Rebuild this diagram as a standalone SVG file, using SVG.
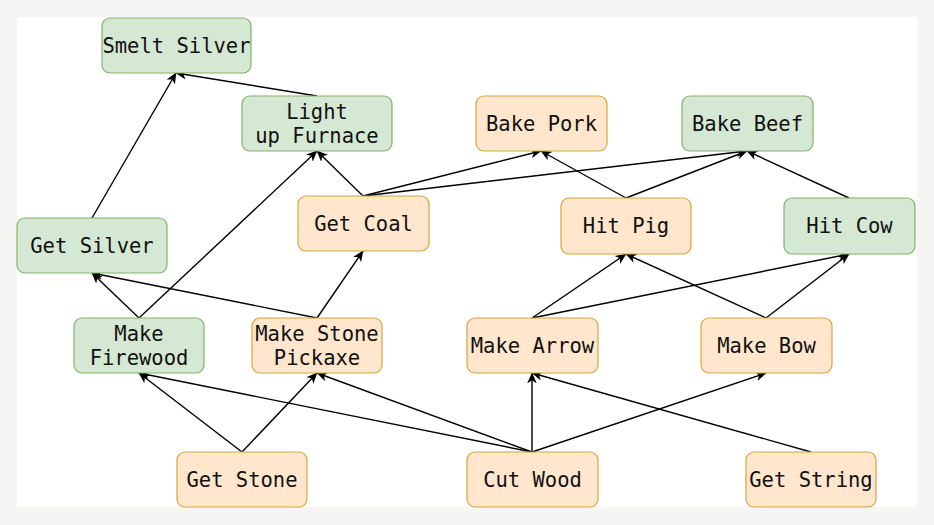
<svg xmlns="http://www.w3.org/2000/svg" width="934" height="525" viewBox="0 0 934 525">
<defs>
<marker id="arr" viewBox="0 0 10 10" refX="9.5" refY="5" markerWidth="11" markerHeight="11" markerUnits="userSpaceOnUse" orient="auto">
<path d="M0,0.6 L10,5 L0,9.4 L2.8,5 Z" fill="#000"/>
</marker>
</defs>
<style>
.g{fill:#d5e8d4;stroke:#82b366;stroke-width:1.2}
.o{fill:#ffe6cc;stroke:#d6a53a;stroke-width:1.2}
text{font-family:"DejaVu Sans Mono","Liberation Mono",monospace;font-size:20.5px;fill:#111;text-anchor:middle}
#edges line{stroke:#000;stroke-width:1.4;marker-end:url(#arr)}
</style>
<rect x="0" y="0" width="934" height="525" fill="#f5f5f3"/>
<rect x="17" y="17" width="900" height="490" fill="#fff"/>
<g id="edges">
<line x1="92" y1="218" x2="176" y2="73"/>
<line x1="317" y1="96" x2="176" y2="73"/>
<line x1="139" y1="318" x2="317" y2="151"/>
<line x1="363" y1="196" x2="317" y2="151"/>
<line x1="363" y1="196" x2="541" y2="151"/>
<line x1="626" y1="198" x2="541" y2="151"/>
<line x1="363" y1="196" x2="747" y2="151"/>
<line x1="626" y1="198" x2="747" y2="151"/>
<line x1="849" y1="198" x2="747" y2="151"/>
<line x1="139" y1="318" x2="92" y2="273"/>
<line x1="317" y1="318" x2="92" y2="273"/>
<line x1="317" y1="318" x2="363" y2="251"/>
<line x1="532" y1="318" x2="626" y2="254"/>
<line x1="766" y1="318" x2="626" y2="254"/>
<line x1="532" y1="318" x2="849" y2="254"/>
<line x1="766" y1="318" x2="849" y2="254"/>
<line x1="242" y1="452" x2="139" y2="373"/>
<line x1="532" y1="452" x2="139" y2="373"/>
<line x1="242" y1="452" x2="317" y2="373"/>
<line x1="532" y1="452" x2="317" y2="373"/>
<line x1="532" y1="452" x2="532" y2="373"/>
<line x1="811" y1="452" x2="532" y2="373"/>
<line x1="532" y1="452" x2="766" y2="373"/>
</g>
<g id="smelt-silver"><rect class="g" x="102" y="18" width="149" height="55" rx="8"/><text x="176.5" y="52.5">Smelt Silver</text></g>
<g id="light-up-furnace"><rect class="g" x="242" y="96" width="150" height="55" rx="8"/><text x="317" y="118.5">Light</text><text x="317" y="142.5">up Furnace</text></g>
<g id="bake-pork"><rect class="o" x="476" y="96" width="131" height="55" rx="8"/><text x="541.5" y="130.5">Bake Pork</text></g>
<g id="bake-beef"><rect class="g" x="682" y="96" width="131" height="55" rx="8"/><text x="747.5" y="130.5">Bake Beef</text></g>
<g id="get-silver"><rect class="g" x="17" y="218" width="150" height="55" rx="8"/><text x="92" y="252.5">Get Silver</text></g>
<g id="get-coal"><rect class="o" x="298" y="196" width="131" height="55" rx="8"/><text x="363.5" y="230.5">Get Coal</text></g>
<g id="hit-pig"><rect class="o" x="561" y="198" width="130" height="56" rx="8"/><text x="626" y="232.5">Hit Pig</text></g>
<g id="hit-cow"><rect class="g" x="784" y="198" width="131" height="56" rx="8"/><text x="849.5" y="232.5">Hit Cow</text></g>
<g id="make-firewood"><rect class="g" x="74" y="318" width="130" height="55" rx="8"/><text x="139" y="340.5">Make</text><text x="139" y="364.5">Firewood</text></g>
<g id="make-stone-pickaxe"><rect class="o" x="252" y="318" width="130" height="55" rx="8"/><text x="317" y="340.5">Make Stone</text><text x="317" y="364.5">Pickaxe</text></g>
<g id="make-arrow"><rect class="o" x="467" y="318" width="131" height="55" rx="8"/><text x="532.5" y="352.5">Make Arrow</text></g>
<g id="make-bow"><rect class="o" x="701" y="318" width="131" height="55" rx="8"/><text x="766.5" y="352.5">Make Bow</text></g>
<g id="get-stone"><rect class="o" x="177" y="452" width="130" height="55" rx="8"/><text x="242" y="486.5">Get Stone</text></g>
<g id="cut-wood"><rect class="o" x="467" y="452" width="131" height="55" rx="8"/><text x="532.5" y="486.5">Cut Wood</text></g>
<g id="get-string"><rect class="o" x="746" y="452" width="130" height="55" rx="8"/><text x="811" y="486.5">Get String</text></g>
</svg>
